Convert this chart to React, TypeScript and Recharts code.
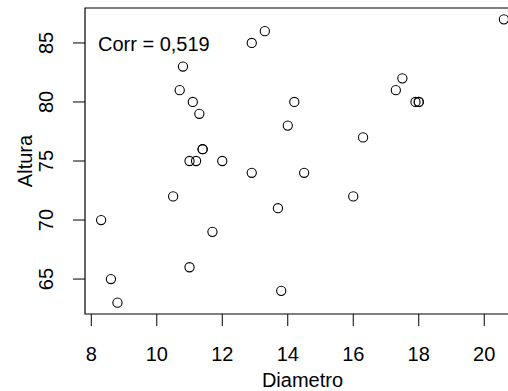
import { ScatterChart, Scatter, XAxis, YAxis, ReferenceArea } from "recharts";

// trees: girth (diameter) and height
const diametro = [
  8.3, 8.6, 8.8, 10.5, 10.7, 10.8, 11.0, 11.0, 11.1, 11.2, 11.3, 11.4, 11.4, 11.7, 12.0, 12.9,
  12.9, 13.3, 13.7, 13.8, 14.0, 14.2, 14.5, 16.0, 16.3, 17.3, 17.5, 17.9, 18.0, 18.0, 20.6,
];
const altura = [
  70, 65, 63, 72, 81, 83, 66, 75, 80, 75, 79, 76, 76, 69, 75, 74,
  85, 86, 71, 64, 78, 80, 74, 72, 77, 81, 82, 80, 80, 80, 87,
];
const xTicks = [8, 10, 12, 14, 16, 18, 20];
const yTicks = [65, 70, 75, 80, 85];
const corrLabel = "Corr = 0,519";

const data = diametro.map((d, i) => ({ diametro: d, altura: altura[i] }));

// R-style 4% padding around the data range
const pad = (lo: number, hi: number): [number, number] => {
  const r = (hi - lo) * 0.04;
  return [lo - r, hi + r];
};
const xDomain = pad(Math.min(...diametro), Math.max(...diametro));
const yDomain = pad(Math.min(...altura), Math.max(...altura));

const FONT = "'Liberation Sans', Arial, Helvetica, sans-serif";

const XTick = (props: any) => (
  <text x={props.x} y={361} textAnchor="middle" fontSize={20} fontFamily={FONT} fill="#000">
    {props.payload.value}
  </text>
);

const YTick = (props: any) => (
  <text
    x={53}
    y={props.y}
    transform={`rotate(-90, 53, ${props.y})`}
    textAnchor="middle"
    fontSize={20}
    fontFamily={FONT}
    fill="#000"
  >
    {props.payload.value}
  </text>
);

const Ring = (props: any) => (
  <circle cx={props.cx} cy={props.cy} r={4.6} fill="none" stroke="#000" strokeWidth={1.1} />
);

export default function App() {
  return (
    <div
      style={{
        position: "absolute",
        left: 0,
        top: 0,
        width: 508,
        height: 391,
        overflow: "hidden",
        background: "#fff",
      }}
    >
      <ScatterChart width={540} height={391} margin={{ top: 8, right: 20, bottom: 0, left: 0 }}>
        <XAxis
          type="number"
          dataKey="diametro"
          domain={xDomain}
          ticks={xTicks}
          allowDataOverflow
          height={77}
          axisLine={false}
          tickSize={12}
          tickLine={{ stroke: "#000", strokeWidth: 1 }}
          tick={<XTick />}
          interval={0}
        />
        <YAxis
          type="number"
          dataKey="altura"
          domain={yDomain}
          ticks={yTicks}
          allowDataOverflow
          width={85}
          axisLine={false}
          tickSize={12}
          tickLine={{ stroke: "#000", strokeWidth: 1 }}
          tick={<YTick />}
          interval={0}
        />
        <ReferenceArea
          x1={xDomain[0]}
          x2={xDomain[1]}
          y1={yDomain[0]}
          y2={yDomain[1]}
          fill="none"
          fillOpacity={0}
          stroke="#000"
          strokeWidth={1.2}
          ifOverflow="visible"
        />
        <Scatter data={data} shape={<Ring />} isAnimationActive={false} />
        <text x={98} y={51} fontSize={20} fontFamily={FONT} fill="#000">
          {corrLabel}
        </text>
        <text x={302.5} y={387} textAnchor="middle" fontSize={20} fontFamily={FONT} fill="#000">
          Diametro
        </text>
        <text
          x={32}
          y={161}
          transform="rotate(-90, 32, 161)"
          textAnchor="middle"
          fontSize={20}
          fontFamily={FONT}
          fill="#000"
        >
          Altura
        </text>
      </ScatterChart>
    </div>
  );
}
